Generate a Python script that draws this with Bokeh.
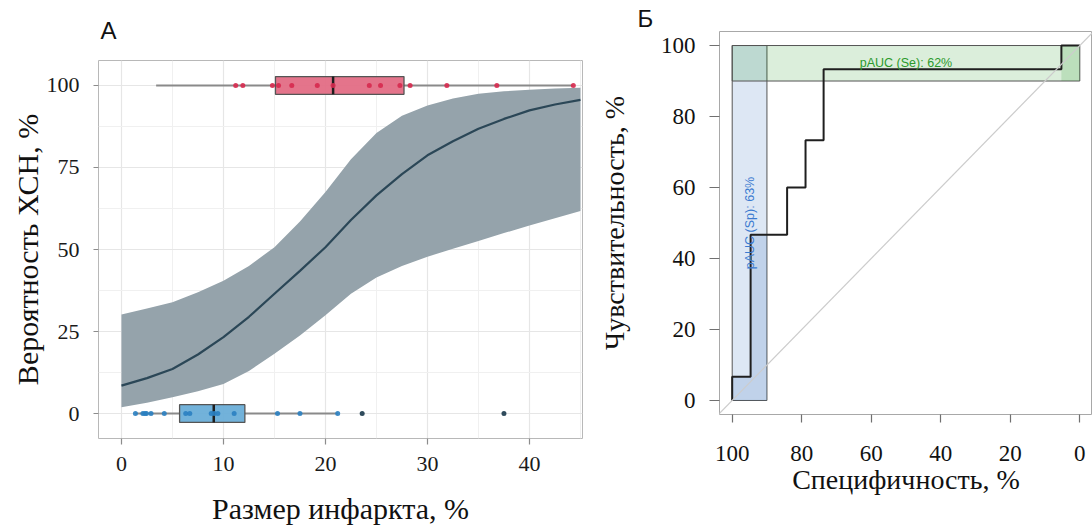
import math
from bokeh.plotting import figure
from bokeh.layouts import row, column
from bokeh.models import Range1d, FixedTicker, Slope
from bokeh.embed import file_html
from bokeh.resources import INLINE
from bokeh.core.properties import value

# ---------------- Panel A: logistic fit of CHF probability vs infarct size ----------------
size_grid = [0, 2.5, 5, 7.5, 10, 12.5, 15, 17.5, 20, 22.5, 25, 27.5, 30, 32.5, 35, 37.5, 40, 42.5, 45]
prob_fit = [8.5, 10.8, 13.6, 18.0, 23.3, 29.5, 36.5, 43.5, 50.7, 59.0, 66.5, 73.0, 78.7, 83.0, 86.8, 89.8, 92.4, 94.2, 95.6]
prob_lower = [1.9, 3.3, 5.0, 6.8, 9.0, 13.0, 18.2, 23.8, 30.0, 36.5, 41.5, 45.0, 47.8, 50.2, 52.6, 55.0, 57.3, 59.5, 61.7]
prob_upper = [30.2, 32.0, 33.9, 37.0, 40.5, 45.0, 50.7, 58.5, 67.5, 77.5, 85.5, 90.8, 93.9, 96.0, 97.5, 98.2, 98.7, 99.1, 99.3]

# observed infarct sizes (%), group with CHF (plotted at 100) and without (plotted at 0)
chf_yes_size = [11.2, 11.9, 14.8, 15.4, 16.7, 19.2, 20.75, 24.3, 25.4, 27.3, 28.3, 31.9, 36.8, 44.3]
chf_no_size = [1.37, 2.1, 2.3, 2.45, 2.9, 4.2, 6.3, 6.7, 8.8, 9.1, 9.45, 11.05, 15.3, 17.5, 21.2]
chf_no_outliers = [23.6, 37.5]
# box statistics: whisker low, Q1, median, Q3, whisker high
box_yes = [3.4, 15.1, 20.75, 27.7, 44.3]
box_no = [1.37, 5.7, 9.05, 12.1, 21.2]
group_level = [100, 0]

x_ticks_a = [0, 10, 20, 30, 40]
y_ticks_a = [0, 25, 50, 75, 100]

# ---------------- Panel B: ROC curve ----------------
roc_sp = [100, 100, 94.7, 94.7, 84.2, 84.2, 78.9, 78.9, 73.7, 73.7, 5.3, 5.3, 0]
roc_se = [0, 6.7, 6.7, 46.7, 46.7, 60, 60, 73.3, 73.3, 93.3, 93.3, 100, 100]
pauc_sp_limits = [100, 90]      # specificity-focused partial AUC region
pauc_se_limits = [90, 100]      # sensitivity-focused partial AUC region
pauc_sp_poly_sp = [100, 100, 94.7, 94.7, 90, 90]
pauc_sp_poly_se = [0, 6.7, 6.7, 46.7, 46.7, 0]
pauc_se_poly_sp = [5.3, 5.3, 0, 0]
pauc_se_poly_se = [90, 100, 100, 90]
pauc_sp_text = "pAUC (Sp): 63%"
pauc_se_text = "pAUC (Se): 62%"
ticks_b = [0, 20, 40, 60, 80, 100]

SERIF = "Liberation Serif"
SANS = "Liberation Sans"

# ================= Panel A =================
pa = figure(width=595, height=531, x_range=Range1d(-2.25, 45.2), y_range=Range1d(-7.6, 107.6),
            output_backend="svg", toolbar_location=None,
            min_border_left=98, min_border_right=13, min_border_top=60, min_border_bottom=93)
pa.background_fill_color = "white"
pa.outline_line_color = "#b8b8b8"
pa.outline_line_width = 1
pa.title.text = "А"
pa.title.align = "left"
pa.title.vertical_align = "top"
pa.title.offset = 2
pa.title.standoff = 30
pa.title.text_font = SANS
pa.title.text_font_style = "normal"
pa.title.text_font_size = "24px"
pa.title.text_color = "#111111"

pa.xaxis.ticker = FixedTicker(ticks=x_ticks_a, minor_ticks=[5, 15, 25, 35, 45])
pa.yaxis.ticker = FixedTicker(ticks=y_ticks_a, minor_ticks=[12.5, 37.5, 62.5, 87.5])
for g in (pa.xgrid, pa.ygrid):
    g.grid_line_color = "#e6e6e6"
    g.grid_line_width = 1.2
    g.minor_grid_line_color = "#f0f0f0"
    g.minor_grid_line_width = 1

for ax in (pa.xaxis, pa.yaxis):
    ax.axis_line_color = None
    ax.major_tick_line_color = "#8c8c8c"
    ax.major_tick_line_width = 1.2
    ax.major_tick_in = 0
    ax.minor_tick_line_color = None
    ax.major_label_text_font = SERIF
    ax.major_label_text_font_size = "22px"
    ax.major_label_text_color = "#1a1a1a"
    ax.axis_label_text_font = SERIF
    ax.axis_label_text_font_style = "normal"
    ax.axis_label_text_color = "#111111"
    ax.axis_label_text_font_size = "30px"

pa.xaxis.major_tick_out = 6
pa.xaxis.major_label_standoff = 12
pa.xaxis.axis_label = "Размер инфаркта, %"
pa.xaxis.axis_label_standoff = 18
pa.yaxis.major_tick_out = 5
pa.yaxis.major_label_standoff = 14
pa.yaxis.axis_label = "Вероятность ХСН, %"
pa.yaxis.axis_label_standoff = 0

# confidence band and fitted curve
pa.varea(x=size_grid, y1=prob_lower, y2=prob_upper, fill_color="#95a3ab", fill_alpha=1)
pa.line(size_grid, prob_fit, line_color="#2b4757", line_width=2.2)

# boxplots
half_h = 2.7
for stats, lvl, fill in ((box_yes, group_level[0], "#e36d85"), (box_no, group_level[1], "#6aaed8")):
    lo, q1, med, q3, hi = stats
    pa.segment(x0=[lo, q3], y0=[lvl, lvl], x1=[q1, hi], y1=[lvl, lvl],
               line_color="#8a8a8a", line_width=2)
    pa.quad(left=[q1], right=[q3], bottom=[lvl - half_h], top=[lvl + half_h],
            fill_color=fill, fill_alpha=0.95, line_color="#555555", line_width=1.3)
    pa.segment(x0=[med], y0=[lvl - half_h], x1=[med], y1=[lvl + half_h],
               line_color="#1e1e1e", line_width=2.5)

pa.scatter(chf_yes_size, [group_level[0]] * len(chf_yes_size), size=5, fill_color="#d6294e",
           line_color=None, fill_alpha=0.9)
pa.scatter(chf_no_size, [group_level[1]] * len(chf_no_size), size=5, fill_color="#2a7fc1",
           line_color=None, fill_alpha=0.9)
pa.scatter(chf_no_outliers, [group_level[1]] * len(chf_no_outliers), size=5, fill_color="#2f4b5c",
           line_color=None)

# ================= Panel B =================
pb = figure(width=497, height=531, x_range=Range1d(103.65, -3.65), y_range=Range1d(-3.95, 103.95),
            output_backend="svg", toolbar_location=None,
            min_border_left=115, min_border_right=0, min_border_top=31, min_border_bottom=117)
pb.outline_line_color = "#a8a8a8"
pb.outline_line_width = 1
pb.title.text = "Б"
pb.title.align = "left"
pb.title.offset = -82
pb.title.standoff = 0
pb.title.text_font = SANS
pb.title.text_font_style = "normal"
pb.title.text_font_size = "24px"
pb.title.text_color = "#111111"
pb.xgrid.grid_line_color = None
pb.ygrid.grid_line_color = None
pb.xaxis.ticker = FixedTicker(ticks=ticks_b)
pb.yaxis.ticker = FixedTicker(ticks=ticks_b)
for ax in (pb.xaxis, pb.yaxis):
    ax.axis_line_color = None
    ax.major_tick_line_color = "#707070"
    ax.major_tick_line_width = 1.2
    ax.major_tick_in = 0
    ax.minor_tick_line_color = None
    ax.major_label_text_font = SERIF
    ax.major_label_text_font_size = "23px"
    ax.major_label_text_color = "#111111"
    ax.axis_label_text_font = SERIF
    ax.axis_label_text_font_style = "normal"
    ax.axis_label_text_color = "#111111"
    ax.axis_label_text_font_size = "28px"
pb.xaxis.major_tick_out = 8
pb.xaxis.major_label_standoff = 23
pb.xaxis.axis_label = "Специфичность, %"
pb.xaxis.axis_label_standoff = 0
pb.yaxis.major_tick_out = 10
pb.yaxis.major_label_standoff = 14
pb.yaxis.axis_label = "Чувствительность, %"
pb.yaxis.axis_label_standoff = 28

BLUE = "#1c61b6"
GREEN = "#008600"
# Sp-focused partial AUC region
pb.quad(left=[pauc_sp_limits[0]], right=[pauc_sp_limits[1]], bottom=[0], top=[100],
        fill_color=BLUE, fill_alpha=0.15, line_color="#555555", line_width=1)
pb.patch(pauc_sp_poly_sp, pauc_sp_poly_se, fill_color=BLUE, fill_alpha=0.15, line_color=None)
# Se-focused partial AUC region
pb.quad(left=[100], right=[0], bottom=[pauc_se_limits[0]], top=[pauc_se_limits[1]],
        fill_color=GREEN, fill_alpha=0.14, line_color="#555555", line_width=1)
pb.patch(pauc_se_poly_sp, pauc_se_poly_se, fill_color=GREEN, fill_alpha=0.14, line_color=None)

pb.add_layout(Slope(gradient=-1, y_intercept=100, line_color="#cccccc", line_width=1.2))
pb.line(roc_sp, roc_se, line_color="#1f1f1f", line_width=2)

pb.text(x=[sum(pauc_sp_limits) / 2], y=[50], text=[pauc_sp_text], angle=math.pi / 2,
        text_font=value(SANS), text_font_size="12.5px", text_color="#3c7bd0",
        text_align="center", text_baseline="middle")
pb.text(x=[50], y=[sum(pauc_se_limits) / 2], text=[pauc_se_text],
        text_font=value(SANS), text_font_size="12.5px", text_color="#2c9a2c",
        text_align="center", text_baseline="middle")

layout = row(column(pa), column(pb), spacing=0)
open("out.html", "w").write(file_html(layout, INLINE))
